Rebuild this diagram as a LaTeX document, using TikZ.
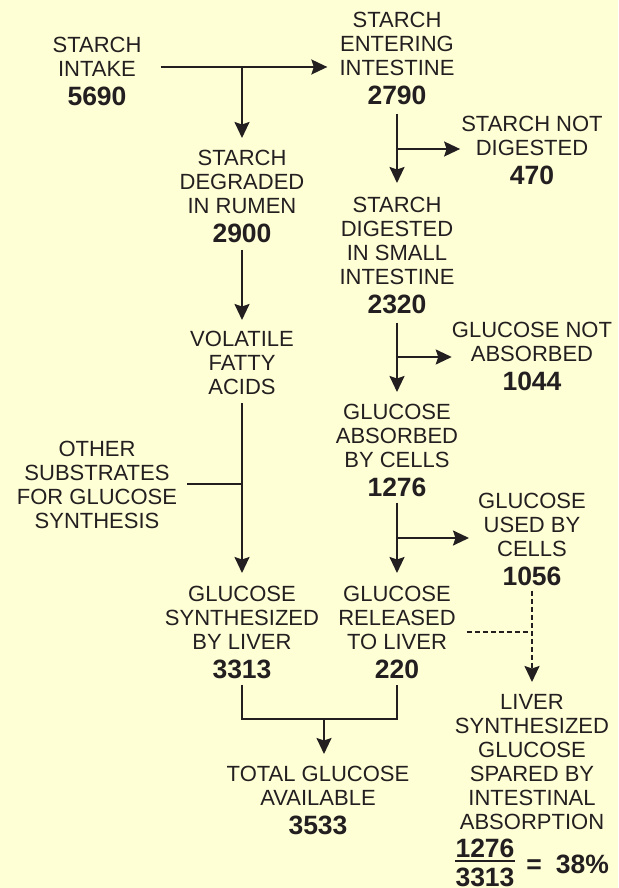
\documentclass[tikz,border=0pt]{standalone}
\usepackage{fontspec}
\setmainfont{Liberation Sans}
\usetikzlibrary{arrows.meta,calc}
\definecolor{bg}{HTML}{FFFFD6}
\definecolor{ink}{HTML}{231F20}
\tikzset{
  lbl/.style={align=center, inner sep=0pt, anchor=north, text=ink, font=\fontsize{22}{24}\selectfont},
  nlbl/.style={inner sep=0pt, anchor=base, text=ink, font=\fontsize{26.5}{24}\selectfont\bfseries},
  flow/.style={draw=ink, line width=2pt},
  arr/.style={flow, -{Stealth[length=16pt,width=15pt,inset=2.5pt]}},
  dsh/.style={dash pattern=on 5pt off 3pt},
}
\newcommand\nm[1]{{\fontsize{26.5}{24}\selectfont\bfseries #1}}
\begin{document}
\begin{tikzpicture}[x=1pt,y=-1pt]
\fill[bg] (0,0) rectangle (618,888);
\useasboundingbox (0,0) rectangle (618,888);

% labels
\node[lbl] (A) at (97,37) {STARCH\\INTAKE\\[4.5pt]\nm{5690}};
\node[lbl] (B) at (397,12) {STARCH\\ENTERING\\INTESTINE\\[4.5pt]\nm{2790}};
\node[lbl] (C) at (242,150) {STARCH\\DEGRADED\\IN RUMEN\\[4.5pt]\nm{2900}};
\node[lbl] (D) at (242,331) {VOLATILE\\FATTY\\ACIDS};
\node[lbl] (O) at (97,441) {OTHER\\SUBSTRATES\\FOR GLUCOSE\\SYNTHESIS};
\node[lbl] (H) at (242,586) {GLUCOSE\\SYNTHESIZED\\BY LIVER\\[4.5pt]\nm{3313}};
\node[lbl] (E) at (397,197) {STARCH\\DIGESTED\\IN SMALL\\INTESTINE\\[4.5pt]\nm{2320}};
\node[lbl] (F) at (532,116) {STARCH NOT\\DIGESTED\\[4.5pt]\nm{470}};
\node[lbl] (N) at (532,322) {GLUCOSE NOT\\ABSORBED\\[4.5pt]\nm{1044}};
\node[lbl] (G) at (397,404) {GLUCOSE\\ABSORBED\\BY CELLS\\[4.5pt]\nm{1276}};
\node[lbl] (U) at (532,493) {GLUCOSE\\USED BY\\CELLS\\[4.5pt]\nm{1056}};
\node[lbl] (I) at (397,586) {GLUCOSE\\RELEASED\\TO LIVER\\[4.5pt]\nm{220}};
\node[lbl] (T) at (318,766) {TOTAL GLUCOSE\\AVAILABLE\\[4.5pt]\nm{3533}};
\node[lbl] (L) at (532,694) {LIVER\\SYNTHESIZED\\GLUCOSE\\SPARED BY\\INTESTINAL\\ABSORPTION};

% fraction
\node[nlbl] (fn) at (485,857) {1276};
\node[nlbl] (fd) at (485,886) {3313};
\node[nlbl] (eq) at (534,873) {=};
\node[nlbl] (pc) at (582.5,873) {38\%};
\coordinate (fb1) at (455,861);
\coordinate (fb2) at (515,861);
\draw[flow] (fb1) -- (fb2);

% junctions
\coordinate (jA) at (242,67);
\coordinate (jO) at (242,484);
\coordinate (jB) at (397,149);
\coordinate (jE) at (397,357);
\coordinate (jG) at (397,538);
\coordinate (jU) at (532,632);
\coordinate (bL) at (242,719);
\coordinate (bR) at (397,719);
\coordinate (bM) at (324,719);

% left column
\draw[arr, shorten <=19pt, shorten >=12pt] (A.east |- jA) -- (B.west |- jA);
\draw[arr, shorten >=12pt] (jA) -- (C.north);
\draw[arr, shorten <=7pt, shorten >=11pt] (C.south) -- (D.north);
\draw[arr, shorten <=8pt, shorten >=13pt] (D.south) -- (H.north);
\draw[flow, shorten <=10pt] (O.east |- jO) -- (jO);

% right column
\draw[arr, shorten <=9pt, shorten >=14pt] (B.south) -- (E.north);
\draw[arr, shorten >=1pt] (jB) -- (F.west |- jB);
\draw[arr, shorten <=9pt, shorten >=12pt] (E.south) -- (G.north);
\draw[arr] (jE) -- (N.west |- jE);
\draw[arr, shorten <=6pt, shorten >=13pt] (G.south) -- (I.north);
\draw[arr, shorten >=9pt] (jG) -- (U.west |- jG);

% dashed
\draw[arr, dsh, shorten <=5pt, shorten >=12pt] (U.south) -- (L.north);
\draw[flow, dsh, shorten <=11pt] (I.east |- jU) -- (jU);

% bottom bracket
\draw[flow, shorten <=6pt, shorten >=6pt] (H.south) -- (bL) -- (bR) -- (I.south);
\draw[arr, shorten >=12pt] (bM) -- (T.north -| bM);
\end{tikzpicture}
\end{document}
